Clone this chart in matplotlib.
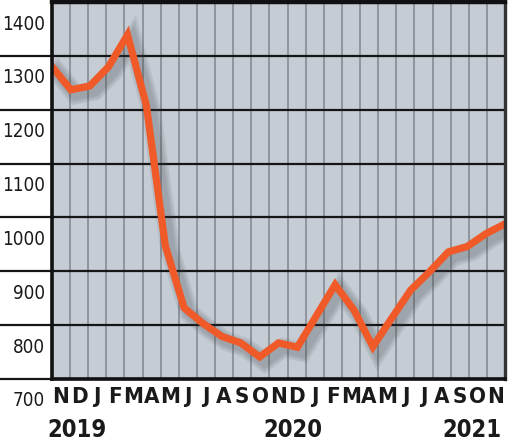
import numpy as np
import matplotlib
matplotlib.use("Agg")
import matplotlib.pyplot as plt
import matplotlib.patheffects as pe
from matplotlib.transforms import ScaledTranslation

months = ["N", "D", "J", "F", "M", "A", "M", "J", "J", "A", "S", "O", "N",
          "D", "J", "F", "M", "A", "M", "J", "J", "A", "S", "O", "N"]
values = [1280, 1237, 1244, 1280, 1339, 1208, 948, 832, 803, 779, 767, 741, 767,
          759, 817, 875, 828, 760, 813, 865, 899, 936, 946, 970, 988]
y_ticks = [700, 800, 900, 1000, 1100, 1200, 1300, 1400]
years = ["2019", "2020", "2021"]
year_pos = [1.4, 13.3, 23.2]

plt.rcParams["font.family"] = ["DejaVu Sans"]
plt.rcParams["font.stretch"] = "condensed"

fig = plt.figure(figsize=(5.25, 4.46), dpi=100)
ax = fig.add_axes([52 / 525, 1 - 379 / 446, 453 / 525, 377 / 446])
ax.set_facecolor("#c5ccd3")
ax.set_xlim(0, len(months))
ax.set_ylim(700, 1400)

# vertical month grid
for k in range(1, len(months)):
    ax.axvline(k, color="#8a9199", lw=1.3, zorder=1)

# horizontal lines, running out over the label column
for v in y_ticks[:-1]:
    ax.axhline(v, xmin=-52 / 453, xmax=1, color="#151515", lw=1.6,
               clip_on=False, zorder=2)

x = np.linspace(0, len(months), len(values))
shadow = [pe.SimpleLineShadow(offset=(3.5, -3.5), shadow_color="#3a3f45",
                              alpha=0.10, linewidth=w) for w in (14, 11, 8)]
ax.plot(x, values, color="#ef5a28", lw=5.2, solid_joinstyle="miter",
        zorder=4, path_effects=shadow + [pe.Normal()])

for side, lw, c in [("left", 2.6, "#111111"), ("bottom", 2.6, "#111111"),
                    ("top", 3.2, "#111111"), ("right", 2.4, "#333333")]:
    ax.spines[side].set_linewidth(lw)
    ax.spines[side].set_color(c)
    ax.spines[side].set_zorder(5)

ax.set_yticks(y_ticks)
ax.set_yticklabels([str(v) for v in y_ticks], fontsize=13.5, color="#1a1a1a")
ax.tick_params(axis="y", length=0, pad=5)
shift = ScaledTranslation(0, -20 / 100, fig.dpi_scale_trans)
for lab in ax.get_yticklabels():
    lab.set_transform(lab.get_transform() + shift)

ax.set_xticks(np.arange(len(months)) + 0.5)
ax.set_xticklabels(months, fontsize=16, fontweight="bold", color="#1a1a1a")
ax.tick_params(axis="x", length=0, pad=6)

for yr, pos in zip(years, year_pos):
    ax.text(pos, -0.135, yr, transform=ax.get_xaxis_transform(), ha="center",
            va="center", fontsize=17, fontweight="bold", color="#1a1a1a")

fig.savefig("out.png", dpi=100)
